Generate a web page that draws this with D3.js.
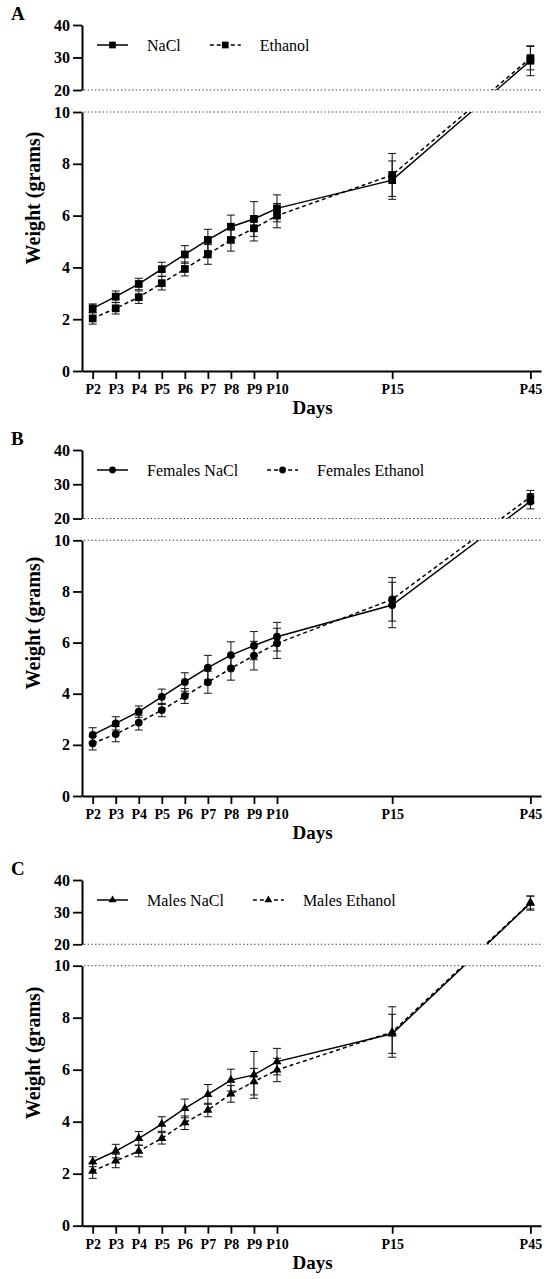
<!DOCTYPE html>
<html><head><meta charset="utf-8">
<script src="https://cdn.jsdelivr.net/npm/d3@7"></script>
<style>
body{margin:0;background:#fff}
svg{display:block}
text{font-family:"Liberation Serif","Times New Roman",serif;fill:#000}
</style>
</head><body>
<svg id="chart" width="546" height="1279"></svg>
<script>
// ---------- data ----------
const categories = ["P2","P3","P4","P5","P6","P7","P8","P9","P10","P15","P45"];
// plotting position of each day on the (compressed) x axis
const dayPos = [2,3,4,5,6,7,8,9,10,15,21];
const lowerTicks = [0,2,4,6,8,10];
const upperTicks = [20,30,40];

// Panel A: all animals
const naclA      = [2.42,2.87,3.36,3.93,4.50,5.06,5.57,5.87,6.28,7.37,29.0];
const naclA_sd   = [0.17,0.22,0.22,0.27,0.34,0.41,0.45,0.67,0.52,0.74,4.6];
const ethanolA   = [2.03,2.42,2.85,3.39,3.94,4.50,5.06,5.51,6.00,7.57,29.8];
const ethanolA_sd= [0.22,0.22,0.24,0.26,0.27,0.38,0.43,0.49,0.47,0.83,3.6];

// Panel B: females
const naclB      = [2.39,2.84,3.30,3.88,4.46,5.02,5.51,5.88,6.23,7.47,25.0];
const naclB_sd   = [0.28,0.26,0.22,0.30,0.36,0.48,0.52,0.55,0.56,0.89,2.2];
const ethanolB   = [2.06,2.42,2.87,3.36,3.91,4.45,4.99,5.49,5.97,7.69,26.3];
const ethanolB_sd= [0.26,0.30,0.29,0.26,0.29,0.43,0.46,0.56,0.59,0.85,1.9];

// Panel C: males
const naclC      = [2.46,2.87,3.36,3.91,4.51,5.05,5.60,5.80,6.31,7.38,32.8];
const naclC_sd   = [0.19,0.26,0.26,0.28,0.36,0.38,0.42,0.90,0.51,0.75,2.2];
const ethanolC   = [2.10,2.49,2.87,3.36,3.96,4.45,5.07,5.54,5.99,7.45,33.0];
const ethanolC_sd= [0.28,0.26,0.22,0.22,0.26,0.26,0.32,0.51,0.45,0.97,2.0];

const legendA = ["NaCl","Ethanol"];
const legendB = ["Females NaCl","Females Ethanol"];
const legendC = ["Males NaCl","Males Ethanol"];

// ---------- layout ----------
const panels = [
  {letter:"A", top:25,  y20:90,    y10:112,   y0:371,   symbol:d3.symbolSquare,   size:60, legend:legendA,
   s1:naclA, s1sd:naclA_sd, s2:ethanolA, s2sd:ethanolA_sd},
  {letter:"B", top:450, y20:518.5, y10:540.3, y0:796,   symbol:d3.symbolCircle,   size:48, legend:legendB,
   s1:naclB, s1sd:naclB_sd, s2:ethanolB, s2sd:ethanolB_sd},
  {letter:"C", top:880, y20:944.3, y10:965.7, y0:1225.7, symbol:d3.symbolTriangle, size:36, legend:legendC,
   s1:naclC, s1sd:naclC_sd, s2:ethanolC, s2sd:ethanolC_sd}
];

const svg = d3.select("#chart");
const xLeft = 82, xRight = 541;
const x = d3.scaleLinear().domain([1.536, 21.46]).range([xLeft, xRight]);
const dashPat = "4,3";

panels.forEach((p, pi) => {
  const g = svg.append("g");
  const lower = d3.scaleLinear().domain([0,10]).range([p.y0, p.y10]);
  const upper = d3.scaleLinear().domain([20,40]).range([p.y20, p.top]);
  const yv = v => v >= 20 ? upper(v) : lower(v);

  // panel letter
  g.append("text").attr("x", 11).attr("y", p.top - 5)
    .style("font-weight","bold").style("font-size","19px").text(p.letter);

  // dotted break lines
  [p.y20, p.y10].forEach(yy => {
    g.append("line").attr("x1", xLeft + 2).attr("x2", xRight)
      .attr("y1", yy).attr("y2", yy)
      .attr("stroke", "#333").attr("stroke-width", 1.1)
      .attr("stroke-dasharray", "1.3,2.4");
  });

  // axes
  const styleAxis = (sel, fs) => {
    sel.select(".domain").attr("stroke","#000").attr("stroke-width",2);
    sel.selectAll(".tick line").attr("stroke","#000").attr("stroke-width",1.8);
    sel.selectAll(".tick text").style("font-family",'"Liberation Serif","Times New Roman",serif')
      .style("font-weight","bold").style("font-size", fs).attr("fill","#000");
  };
  g.append("g").attr("transform",`translate(${xLeft},0)`)
    .call(d3.axisLeft(upper).tickValues(upperTicks).tickSize(9).tickSizeOuter(0).tickPadding(3).tickFormat(d3.format("d")))
    .call(s => styleAxis(s, "16px"));
  g.append("g").attr("transform",`translate(${xLeft},0)`)
    .call(d3.axisLeft(lower).tickValues(lowerTicks).tickSize(9).tickSizeOuter(0).tickPadding(3).tickFormat(d3.format("d")))
    .call(s => styleAxis(s, "16px"));
  g.append("g").attr("transform",`translate(0,${p.y0})`)
    .call(d3.axisBottom(x).tickValues(dayPos).tickSize(8).tickSizeOuter(0).tickPadding(5)
      .tickFormat((d,i) => categories[i]))
    .call(s => styleAxis(s, "14px"));

  // axis titles
  g.append("text").attr("x", (xLeft + xRight)/2 + 1).attr("y", p.y0 + 43)
    .attr("text-anchor","middle").style("font-weight","bold").style("font-size","19px").text("Days");
  g.append("text").attr("transform",`translate(40,${(p.top + p.y0)/2}) rotate(-90)`)
    .attr("text-anchor","middle").style("font-weight","bold").style("font-size","20px").text("Weight (grams)");

  // clip for broken axis
  const clipId = "clip" + pi;
  const cp = g.append("clipPath").attr("id", clipId);
  cp.append("rect").attr("x", xLeft).attr("y", p.top - 20).attr("width", xRight - xLeft + 10).attr("height", p.y20 - p.top + 20);
  cp.append("rect").attr("x", xLeft).attr("y", p.y10).attr("width", xRight - xLeft + 10).attr("height", p.y0 - p.y10);

  const line = d3.line().x((d,i) => x(dayPos[i])).y(d => yv(d));
  const series = [
    {vals:p.s2, sd:p.s2sd, dash:dashPat},
    {vals:p.s1, sd:p.s1sd, dash:null}
  ];
  series.forEach(s => {
    g.append("path").datum(s.vals).attr("d", line)
      .attr("fill","none").attr("stroke","#000").attr("stroke-width",1.5)
      .attr("stroke-dasharray", s.dash).attr("clip-path", `url(#${clipId})`);
  });
  series.forEach(s => {
    const eb = g.append("g");
    s.vals.forEach((v,i) => {
      const cx = x(dayPos[i]), yt = yv(v + s.sd[i]), yb = yv(v - s.sd[i]);
      eb.append("line").attr("x1",cx).attr("x2",cx).attr("y1",yt).attr("y2",yb)
        .attr("stroke","#111").attr("stroke-width",1);
      [yt, yb].forEach(yy => eb.append("line").attr("x1",cx-4).attr("x2",cx+4).attr("y1",yy).attr("y2",yy)
        .attr("stroke","#111").attr("stroke-width",1));
    });
  });
  series.forEach(s => {
    g.append("g").selectAll("path").data(s.vals).join("path")
      .attr("transform",(d,i) => `translate(${x(dayPos[i])},${yv(d)})`)
      .attr("d", d3.symbol().type(p.symbol).size(p.size)).attr("fill","#000");
  });

  // legend
  const ly = p.top + 20;
  const lg = g.append("g");
  lg.append("line").attr("x1",97).attr("x2",128).attr("y1",ly).attr("y2",ly).attr("stroke","#000").attr("stroke-width",1.5);
  lg.append("path").attr("transform",`translate(112.5,${ly})`).attr("d", d3.symbol().type(p.symbol).size(p.size*0.75)).attr("fill","#000");
  const t1 = lg.append("text").attr("x",147).attr("y",ly+5.5).style("font-size","16px").text(p.legend[0]);
  const w1 = t1.node().getComputedTextLength();
  const x2s = 147 + w1 + 29;
  lg.append("line").attr("x1",x2s).attr("x2",x2s+31).attr("y1",ly).attr("y2",ly).attr("stroke","#000").attr("stroke-width",1.5).attr("stroke-dasharray","4,3");
  lg.append("path").attr("transform",`translate(${x2s+15.5},${ly})`).attr("d", d3.symbol().type(p.symbol).size(p.size*0.75)).attr("fill","#000");
  lg.append("text").attr("x",x2s+50).attr("y",ly+5.5).style("font-size","16px").text(p.legend[1]);
});
</script>
</body></html>
